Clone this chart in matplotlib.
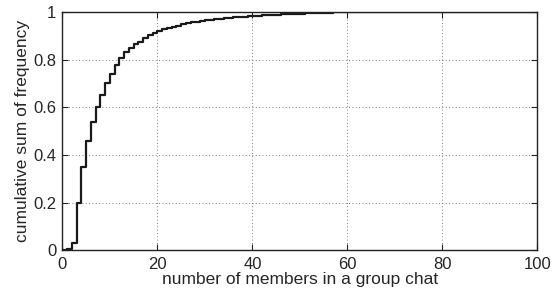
import numpy as np
import matplotlib.pyplot as plt

plt.rcParams['font.family'] = ['Liberation Sans', 'DejaVu Sans']

# cumulative frequency at group sizes 1..60, flat at 1 afterwards
members = list(range(0, 101))
cum_freq = [0.0,
            0.007, 0.03, 0.20, 0.35, 0.46, 0.54, 0.60, 0.653, 0.703, 0.74,
            0.776, 0.808, 0.832, 0.85, 0.864, 0.876, 0.89, 0.902, 0.91, 0.921,
            0.927, 0.933, 0.938, 0.943, 0.948, 0.952, 0.956, 0.959, 0.962, 0.965,
            0.968, 0.970, 0.972, 0.974, 0.976, 0.978, 0.979, 0.981, 0.982, 0.984,
            0.985, 0.986, 0.987, 0.988, 0.989, 0.990, 0.991, 0.992, 0.992, 0.993,
            0.994, 0.994, 0.995, 0.996, 0.996, 0.997, 0.998, 0.998, 0.999, 1.0]
cum_freq = cum_freq + [1.0] * (len(members) - len(cum_freq))

fig = plt.figure(figsize=(5.6, 2.97), dpi=100)
ax = fig.add_axes([0.1116, 0.1566, 0.848, 0.803])
ax.step(members, cum_freq, where='post', color='#1a1a1a', linewidth=1.6)
ax.set_xlim(0, 100)
ax.set_ylim(0, 1)
ax.set_xticks([0, 20, 40, 60, 80, 100])
ax.set_yticks([0, 0.2, 0.4, 0.6, 0.8, 1])
ax.set_yticklabels(['0', '0.2', '0.4', '0.6', '0.8', '1'])
ax.grid(True, linestyle=(0, (1, 3)), color='#555555', linewidth=0.6)
ax.tick_params(direction='in', top=True, right=True, labelsize=12, pad=4.5,
               length=4, width=0.8, colors='#262626')
for s in ax.spines.values():
    s.set_linewidth(1.0)
    s.set_color('#222222')
ax.set_xlabel('number of members in a group chat', fontsize=12.5, labelpad=0.5, color='#262626')
ax.set_ylabel('cumulative sum of frequency', fontsize=12.5, labelpad=2, color='#262626')
plt.savefig('out.png', dpi=100)
